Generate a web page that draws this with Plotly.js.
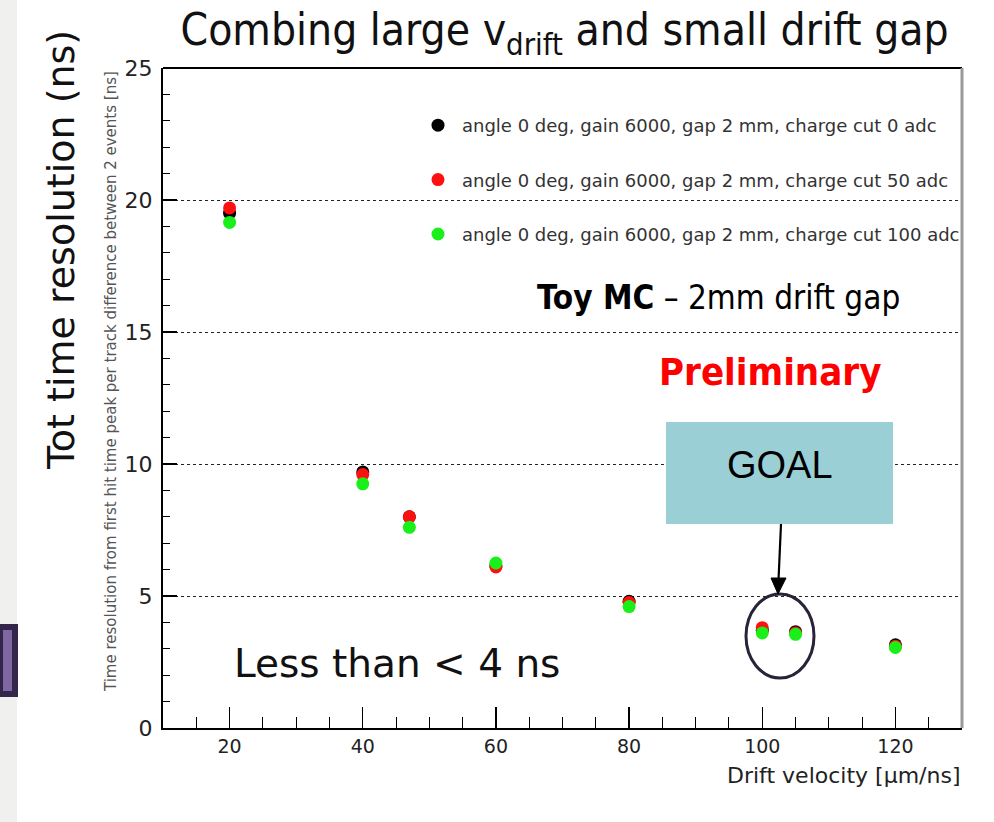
<!DOCTYPE html>
<html><head><meta charset="utf-8">
<script src="https://cdn.plot.ly/plotly-3.0.1.min.js"></script>
<style>html,body{margin:0;padding:0;background:#fff}#c{width:994px;height:822px}</style>
</head><body><div id="c"></div>
<script>
const driftVelocity = [20, 40, 47, 60, 80, 100, 105, 120];
const cut0   = [19.5, 9.7, 8.0, 6.15, 4.8, 3.7, 3.65, 3.15];
const cut50  = [19.7, 9.6, 8.0, 6.1, 4.75, 3.8, 3.6, 3.1];
const cut100 = [19.15, 9.25, 7.6, 6.25, 4.6, 3.6, 3.55, 3.05];
const seriesNames = [
  'angle 0 deg, gain 6000, gap 2 mm, charge cut 0 adc',
  'angle 0 deg, gain 6000, gap 2 mm, charge cut 50 adc',
  'angle 0 deg, gain 6000, gap 2 mm, charge cut 100 adc'
];
const seriesColors = ['#000000', '#ff1010', '#19f019'];
const seriesValues = [cut0, cut50, cut100];

const L = 163, R = 962, T = 68, B = 728;
const px = x => (x - L) / (R - L);
const py = y => (B - y) / (B - T);

const traces = seriesValues.map((v, i) => ({
  type: 'scatter', mode: 'markers', x: driftVelocity, y: v, name: seriesNames[i],
  legendgroup: 'g' + i,
  marker: {color: seriesColors[i], size: 13, symbol: 'circle'}
}));

const helv = 'DejaVu Sans, Liberation Sans, Arial, sans-serif';
const narrow = 'DejaVu Sans Condensed, Liberation Sans Narrow, Roboto, sans-serif';

const layout = {
  width: 994, height: 822,
  margin: {l: L, r: 994 - R, t: T, b: 822 - B},
  paper_bgcolor: '#ffffff', plot_bgcolor: '#ffffff',
  showlegend: true,
  legend: {x: px(414), y: py(107), xanchor: 'left', yanchor: 'top',
    font: {family: helv, size: 18, color: '#333'}, bgcolor: 'rgba(255,255,255,0)',
    tracegroupgap: 28, itemwidth: 38},
  title: {text: 'Combing large v<sub>drift</sub> and small drift gap', x: 0.568, xref: 'container', xanchor: 'center',
    y: 1 - 30/822, yref: 'container', yanchor: 'middle',
    font: {family: narrow, size: 44, color: '#111'}},
  xaxis: {range: [10, 130], showgrid: false, zeroline: false,
    tickmode: 'array', tickvals: [20, 40, 60, 80, 100, 120],
    ticks: 'inside', ticklen: 21, tickwidth: 1.3, tickcolor: '#000',
    minor: {ticks: 'inside', ticklen: 11, dtick: 5, tick0: 0, tickcolor: '#000', tickwidth: 1, showgrid: false},
    showline: true, linecolor: '#000', linewidth: 2,
    tickfont: {family: helv, size: 19, color: '#222'}},
  yaxis: {range: [0, 25], zeroline: false,
    tickmode: 'array', tickvals: [0, 5, 10, 15, 20, 25],
    showgrid: true, gridcolor: '#222', griddash: 'dot', gridwidth: 1,
    ticks: 'inside', ticklen: 14, tickwidth: 1.3, tickcolor: '#000',
    minor: {ticks: 'inside', ticklen: 7, dtick: 1, tick0: 0, tickcolor: '#000', tickwidth: 1, showgrid: false},
    showline: true, linecolor: '#000', linewidth: 2,
    tickfont: {family: helv, size: 22, color: '#222'}, ticklabelstandoff: 4},
  shapes: [
    {type: 'rect', xref: 'paper', yref: 'paper', x0: px(0), x1: px(17), y0: py(822), y1: py(0), fillcolor: '#f0f0ee', line: {width: 0}, layer: 'below'},
    {type: 'rect', xref: 'paper', yref: 'paper', x0: px(0), x1: px(15), y0: py(694), y1: py(627), fillcolor: '#7f68a1', line: {color: '#33264a', width: 6}},
    {type: 'line', xref: 'paper', yref: 'paper', x0: 0, x1: 1, y0: 1, y1: 1, line: {color: '#000', width: 2}},
    {type: 'line', xref: 'paper', yref: 'paper', x0: 1, x1: 1, y0: 0, y1: 1, line: {color: '#9a9a9a', width: 3}},
    {type: 'rect', xref: 'paper', yref: 'paper', x0: px(666), x1: px(893), y0: py(524), y1: py(422), fillcolor: '#9bcfd6', line: {width: 0}},
    {type: 'circle', xref: 'paper', yref: 'paper', x0: px(746), x1: px(814), y0: py(678), y1: py(594), line: {color: '#2a2238', width: 3}},
    {type: 'line', xref: 'paper', yref: 'paper', x0: px(781), x1: px(778.5), y0: py(524), y1: py(580), line: {color: '#000', width: 2.2}},
    {type: 'path', xref: 'paper', yref: 'paper',
      path: `M ${px(771)} ${py(578)} L ${px(786)} ${py(578)} L ${px(778)} ${py(594)} Z`,
      fillcolor: '#000', line: {color: '#000', width: 1}}
  ],
  annotations: [
    {text: 'Tot time resolution (ns)', xref: 'paper', yref: 'paper', x: px(61), y: py(250), textangle: -90,
      xanchor: 'center', yanchor: 'middle',
      showarrow: false, font: {family: 'DejaVu Sans, sans-serif', size: 38, color: '#111'}},
    {text: 'Time resolution from first hit time peak per track difference between 2 events [ns]', xref: 'paper', yref: 'paper',
      x: px(111), y: py(382), textangle: -90, xanchor: 'center', yanchor: 'middle',
      showarrow: false, font: {family: helv, size: 15, color: '#555'}},
    {text: 'Drift velocity [\u03bcm/ns]', xref: 'paper', yref: 'paper', x: 1, y: py(775), xanchor: 'right', yanchor: 'middle',
      showarrow: false, font: {family: helv, size: 22, color: '#222'}},
    {text: '<b>Toy MC</b> \u2013 2mm drift gap', xref: 'paper', yref: 'paper', x: px(535), y: py(297), xanchor: 'left', yanchor: 'middle',
      showarrow: false, font: {family: narrow, size: 33, color: '#000'}},
    {text: '<b>Preliminary</b>', xref: 'paper', yref: 'paper', x: px(657), y: py(372), xanchor: 'left', yanchor: 'middle',
      showarrow: false, font: {family: narrow, size: 38, color: '#ff0000'}},
    {text: 'Less than < 4 ns', xref: 'paper', yref: 'paper', x: px(232), y: py(663), xanchor: 'left', yanchor: 'middle',
      showarrow: false, font: {family: 'DejaVu Sans, sans-serif', size: 39, color: '#111'}},
    {text: 'GOAL', xref: 'paper', yref: 'paper', x: px(780), y: py(465), xanchor: 'center', yanchor: 'middle',
      showarrow: false, font: {family: 'Liberation Sans, Arial, sans-serif', size: 38, color: '#000'}}
  ]
};
Plotly.newPlot('c', traces, layout, {displayModeBar: false, staticPlot: true});
</script></body></html>
